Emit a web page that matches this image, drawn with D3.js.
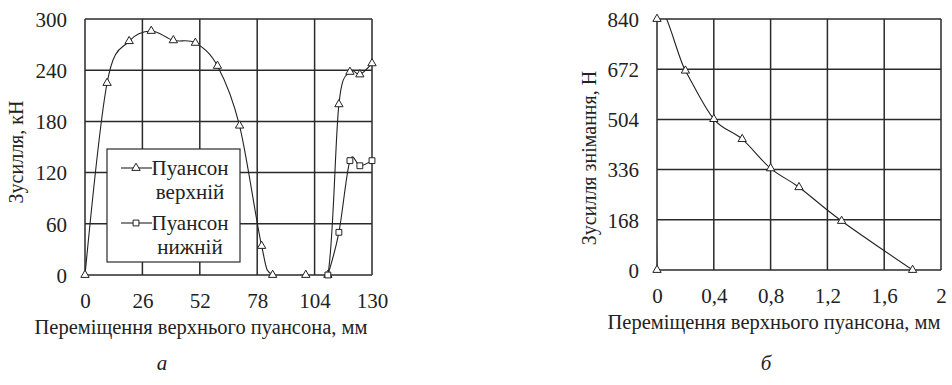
<!DOCTYPE html>
<html>
<head>
<meta charset="utf-8">
<script src="https://cdn.jsdelivr.net/npm/d3@7"></script>
</head>
<body style="margin:0">
<script>
// chart a
const topX = [0, 10, 20, 30, 40, 50, 60, 70, 80, 85, 100, 110, 115, 120, 124.5, 130];
const topY = [0, 225, 274, 286, 275, 272, 245, 175, 34, 0, 0, 0, 200, 238, 235, 248];
const lowX = [110, 115, 120, 124.5, 130];
const lowY = [0, 50, 134, 128, 134];
const ticksA_x = [0, 26, 52, 78, 104, 130];
const ticksA_y = [0, 60, 120, 180, 240, 300];

// chart b
const stripX = [0, 0, 0.2, 0.4, 0.6, 0.8, 1.0, 1.3, 1.8];
const stripY = [0, 840, 667, 505, 438, 340, 277, 164, 0];
const ticksB_x = [0, 0.4, 0.8, 1.2, 1.6, 2];
const ticksB_y = [0, 168, 336, 504, 672, 840];

const FONT = "'Liberation Serif'";

const svg = d3.select('body')
  .append('svg')
  .attr('width', 952)
  .attr('height', 385)
  .style('font-family', FONT);

const gridColor = '#2a2a2a';
const textColor = '#222';
const fmt = d => String(d).replace('.', ',');

function addText(x, y, str, size) {
  return svg.append('text')
    .attr('x', x).attr('y', y)
    .attr('dy', '0.35em')
    .attr('text-anchor', 'middle')
    .style('font-family', FONT)
    .attr('font-size', size)
    .attr('fill', textColor)
    .text(str);
}

function drawPanel(id, xs, ys, xTicks, yTicks, xTitleX, yTitle, yTitleX, yTitleY) {
  const [x0, x1] = xs.range();
  const [y0, y1] = ys.range();

  svg.append('clipPath').attr('id', id)
    .append('rect')
    .attr('x', x0).attr('y', y1)
    .attr('width', x1 - x0).attr('height', y0 - y1);

  // grid
  const g = svg.append('g');
  g.selectAll('.vg').data(xTicks).enter().append('line')
    .attr('x1', d => xs(d)).attr('x2', d => xs(d))
    .attr('y1', y0).attr('y2', y1)
    .attr('stroke', gridColor).attr('stroke-width', 1.5);
  g.selectAll('.hg').data(yTicks).enter().append('line')
    .attr('x1', x0).attr('x2', x1)
    .attr('y1', d => ys(d)).attr('y2', d => ys(d))
    .attr('stroke', gridColor).attr('stroke-width', 1.5);

  // tick labels
  svg.append('g')
    .attr('transform', `translate(0, ${y0 + 26})`)
    .call(d3.axisBottom(xs).tickValues(xTicks).tickSize(0).tickFormat(fmt))
    .attr('font-family', null)
    .call(a => a.select('.domain').remove())
    .selectAll('text')
    .style('font-family', FONT)
    .attr('font-size', 21).attr('dy', '0.35em').attr('y', 0)
    .attr('fill', textColor);

  svg.append('g')
    .attr('transform', `translate(${x0 - 18}, 0)`)
    .call(d3.axisLeft(ys).tickValues(yTicks).tickSize(0).tickFormat(fmt))
    .attr('font-family', null)
    .call(a => a.select('.domain').remove())
    .selectAll('text')
    .style('font-family', FONT)
    .attr('font-size', 21).attr('dy', '0.35em').attr('x', 0)
    .attr('fill', textColor);

  addText(xTitleX, y0 + 52, 'Переміщення верхнього пуансона, мм', 20.5);

  addText(0, 0, yTitle, 20)
    .attr('x', null).attr('y', null)
    .attr('transform', `translate(${yTitleX}, ${yTitleY}) rotate(-90)`);
}

function drawSeries(id, xs, ys, X, Y, symbol, size) {
  const pts = X.map((v, i) => [xs(v), ys(Y[i])]);
  svg.append('path')
    .attr('clip-path', `url(#${id})`)
    .attr('d', d3.line().curve(d3.curveCardinal.tension(0))(pts))
    .attr('fill', 'none')
    .attr('stroke', '#222')
    .attr('stroke-width', 1.1);
  svg.append('g').selectAll('path').data(pts).enter().append('path')
    .attr('transform', d => `translate(${d[0]}, ${d[1]})`)
    .attr('d', d3.symbol(symbol, size))
    .attr('fill', '#fff')
    .attr('stroke', '#222')
    .attr('stroke-width', 1);
}

// ---- panel a ----
const xA = d3.scaleLinear().domain([0, 130]).range([85, 372]);
const yA = d3.scaleLinear().domain([0, 300]).range([275, 19]);
drawPanel('clipA', xA, yA, ticksA_x, ticksA_y, 201, 'Зусилля, кН', 16, 152);

// legend box
svg.append('rect')
  .attr('x', 107).attr('y', 149)
  .attr('width', 133).attr('height', 113)
  .attr('fill', '#fff')
  .attr('stroke', gridColor).attr('stroke-width', 1.2);

drawSeries('clipA', xA, yA, topX, topY, d3.symbolTriangle, 30);
drawSeries('clipA', xA, yA, lowX, lowY, d3.symbolSquare, 34);

const legend = [
  { y: 168, label: ['Пуансон', 'верхній'], sym: d3.symbolTriangle, size: 30 },
  { y: 223, label: ['Пуансон', 'нижній'], sym: d3.symbolSquare, size: 34 }
];
legend.forEach(l => {
  svg.append('line')
    .attr('x1', 121).attr('x2', 152)
    .attr('y1', l.y).attr('y2', l.y)
    .attr('stroke', '#222').attr('stroke-width', 1.1);
  svg.append('path')
    .attr('transform', `translate(136, ${l.y})`)
    .attr('d', d3.symbol(l.sym, l.size))
    .attr('fill', '#fff').attr('stroke', '#222');
  l.label.forEach((t, i) => addText(190, l.y + i * 24, t, 21));
});

// ---- panel b ----
const xB = d3.scaleLinear().domain([0, 2]).range([657, 941]);
const yB = d3.scaleLinear().domain([0, 840]).range([270, 19]);
drawPanel('clipB', xB, yB, ticksB_x, ticksB_y, 774, 'Зусилля знімання, Н', 589, 158);
drawSeries('clipB', xB, yB, stripX, stripY, d3.symbolTriangle, 30);

// captions
addText(162, 363, 'а', 21).attr('font-style', 'italic');
addText(766, 363, 'б', 21).attr('font-style', 'italic');
</script>
</body>
</html>
